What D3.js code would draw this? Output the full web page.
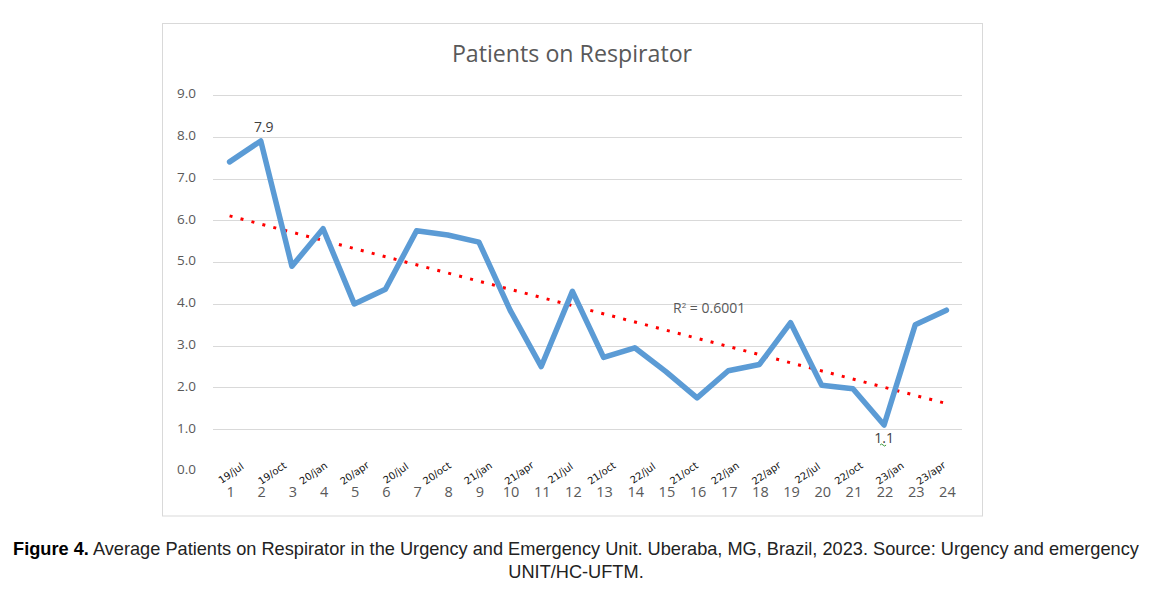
<!DOCTYPE html>
<html>
<head>
<meta charset="utf-8">
<script src="https://cdn.jsdelivr.net/npm/d3@7"></script>
<style>
  html, body { margin: 0; padding: 0; background: #fff; }
  svg { display: block; }
</style>
</head>
<body>
<svg id="chart" width="1152" height="589"></svg>
<script>
// ---- data ----
const categories = d3.range(1, 25);
const values = [7.4, 7.9, 4.9, 5.8, 4.0, 4.35, 5.75, 5.65, 5.48, 3.85, 2.5, 4.3,
                2.72, 2.95, 2.38, 1.75, 2.4, 2.55, 3.55, 2.05, 1.97, 1.1, 3.5, 3.85];
const dateLabels = ["19/jul", "19/oct", "20/jan", "20/apr", "20/jul", "20/oct", "21/jan", "21/apr", "21/jul",
                    "21/oct", "22/jul", "21/oct", "22/jan", "22/apr", "22/jul", "22/oct", "23/jan", "23/apr"];
const yTicks = [0, 1, 2, 3, 4, 5, 6, 7, 8, 9];
const dataLabels = [{ index: 1, text: "7.9", pos: "above" }, { index: 21, text: "1.1", pos: "below" }];
const titleText = "Patients on Respirator";
const r2Text = "0.6001";

// ---- layout ----
const svg = d3.select("#chart");
const plot = { left: 214, right: 962, top: 95, bottom: 471 };

const x = d3.scaleBand().domain(categories).range([plot.left, plot.right]);
const xc = d => x(d) + x.bandwidth() / 2;
const y = d3.scaleLinear().domain([0, 9]).range([plot.bottom, plot.top]);
const xDates = d3.scalePoint().domain(d3.range(dateLabels.length)).range([233, 933]);

// chart border
svg.append("rect")
  .attr("x", 162.5).attr("y", 23.5).attr("width", 820).attr("height", 492.5)
  .attr("fill", "#fff").attr("stroke", "#d9d9d9").attr("stroke-width", 1);

// title
svg.append("text")
  .attr("x", 572).attr("y", 62)
  .attr("text-anchor", "middle")
  .attr("font-family", "'Open Sans', sans-serif")
  .attr("font-size", 23.2)
  .attr("fill", "#595959")
  .text(titleText);

// gridlines (no line at zero)
svg.append("g")
  .selectAll("line")
  .data(yTicks.filter(t => t > 0))
  .join("line")
  .attr("x1", plot.left - 1).attr("x2", plot.right)
  .attr("y1", d => Math.round(y(d)) + 0.5).attr("y2", d => Math.round(y(d)) + 0.5)
  .attr("stroke", "#d9d9d9").attr("stroke-width", 1);

// y axis labels
const yAxis = d3.axisLeft(y).tickValues(yTicks).tickFormat(d3.format(".1f")).tickSize(0).tickPadding(0);
const yg = svg.append("g").attr("transform", `translate(196,-1.5)`).call(yAxis);
yg.select(".domain").remove();
yg.selectAll("text")
  .attr("font-family", "'Open Sans', sans-serif")
  .attr("font-size", 13.5)
  .attr("fill", "#595959");

// x axis number labels
const xAxis = d3.axisBottom(x).tickSize(0).tickPadding(0);
const xg = svg.append("g").attr("transform", `translate(1,487)`).call(xAxis);
xg.select(".domain").remove();
xg.selectAll("text")
  .attr("font-family", "'Open Sans', sans-serif")
  .attr("font-size", 14.5)
  .attr("fill", "#595959");

// rotated date labels
svg.append("g")
  .selectAll("text")
  .data(dateLabels)
  .join("text")
  .attr("transform", (d, i) => `translate(${xDates(i)},476) rotate(-35)`)
  .attr("text-anchor", "middle")
  .attr("font-family", "'DejaVu Sans', sans-serif")
  .attr("font-size", 10)
  .attr("fill", "#111")
  .text(d => d);

// trendline (least squares)
const n = values.length;
const mx = d3.mean(categories), my = d3.mean(values);
const sxy = d3.sum(categories, (c, i) => (c - mx) * (values[i] - my));
const sxx = d3.sum(categories, c => (c - mx) * (c - mx));
const slope = sxy / sxx, intercept = my - slope * mx;
svg.append("line")
  .attr("x1", xc(categories[0])).attr("y1", y(intercept + slope * categories[0]))
  .attr("x2", xc(categories[n - 1])).attr("y2", y(intercept + slope * categories[n - 1]))
  .attr("stroke", "#ff0000").attr("stroke-width", 3)
  .attr("stroke-dasharray", "3 8.3");

// main line
const line = d3.line().x((d, i) => xc(categories[i])).y(d => y(d));
svg.append("path")
  .datum(values)
  .attr("d", line)
  .attr("fill", "none")
  .attr("stroke", "#5b9bd5")
  .attr("stroke-width", 5.5)
  .attr("stroke-linejoin", "round")
  .attr("stroke-linecap", "round");

// data labels
svg.append("g")
  .selectAll("text")
  .data(dataLabels)
  .join("text")
  .attr("x", d => xc(categories[d.index]) + (d.pos === "above" ? 3 : 0))
  .attr("y", d => d.pos === "above" ? y(values[d.index]) - 9 : y(values[d.index]) + 18)
  .attr("text-anchor", "middle")
  .attr("font-family", "'Open Sans', sans-serif")
  .attr("font-size", 14)
  .attr("fill", "#404040")
  .text(d => d.text);

// small green squiggle under lower label
const low = dataLabels.find(d => d.pos === "below");
svg.append("path")
  .attr("d", `M${xc(categories[low.index]) - 4},${y(values[low.index]) + 20} q1.5,-2 3,0 t3,0`)
  .attr("fill", "none").attr("stroke", "#3c9a3c").attr("stroke-width", 1);

// R² label
const r2 = svg.append("text")
  .attr("x", 673).attr("y", 313)
  .attr("font-family", "'Open Sans', sans-serif")
  .attr("font-size", 14)
  .attr("fill", "#595959");
r2.append("tspan").text("R");
r2.append("tspan").attr("dy", -5).attr("font-size", 8).text("2");
r2.append("tspan").attr("dy", 5).text(" = " + r2Text);

// caption
const cap1 = svg.append("text")
  .attr("x", 576).attr("y", 555)
  .attr("text-anchor", "middle")
  .attr("font-family", "'Liberation Sans', Arial, sans-serif")
  .attr("font-size", 18.2)
  .attr("fill", "#222");
cap1.append("tspan").attr("font-weight", "bold").attr("fill", "#000").text("Figure 4.");
cap1.append("tspan").text(" Average Patients on Respirator in the Urgency and Emergency Unit. Uberaba, MG, Brazil, 2023. Source: Urgency and emergency");
svg.append("text")
  .attr("x", 576).attr("y", 578)
  .attr("text-anchor", "middle")
  .attr("font-family", "'Liberation Sans', Arial, sans-serif")
  .attr("font-size", 18.2)
  .attr("fill", "#222")
  .text("UNIT/HC-UFTM.");
</script>
</body>
</html>
